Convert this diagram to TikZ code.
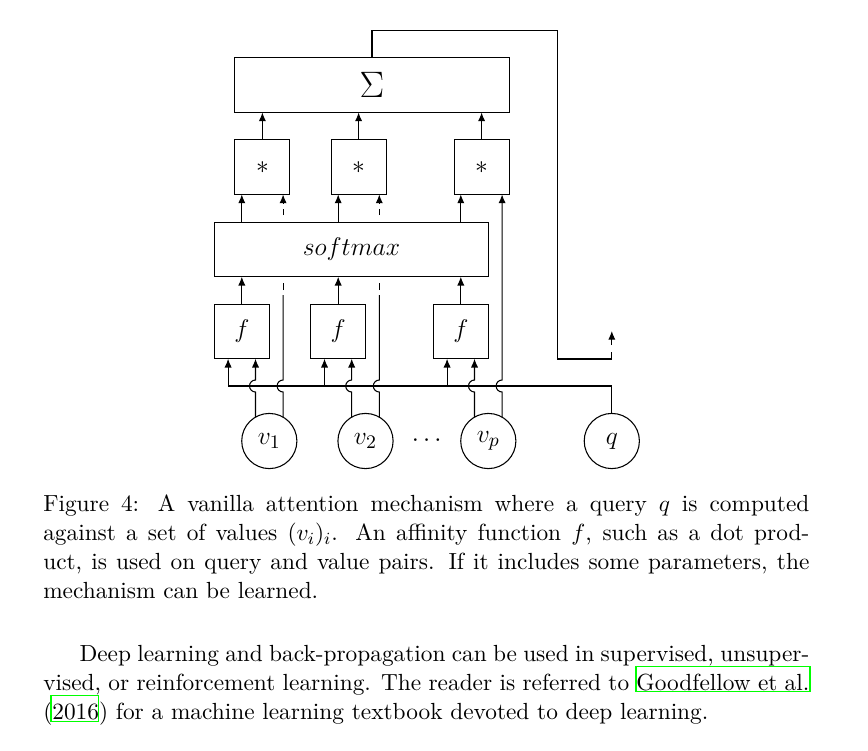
\documentclass[tikz,border=0pt]{standalone}
\usetikzlibrary{arrows.meta}
\definecolor{linkgreen}{RGB}{0,255,0}
\begin{document}
\begin{tikzpicture}[x=0.4694pt,y=0.4694pt,
  line width=0.5pt,
  arr/.style={-{Latex[length=4.1pt,width=3.4pt]}},
  dia/.style={font=\fontsize{13.2}{16}\selectfont, inner sep=0pt, outer sep=0pt},
  opbox/.style={dia, draw, rectangle, minimum width=25.8pt, minimum height=25.6pt},
  widebox/.style={dia, draw, rectangle, minimum width=128.7pt, minimum height=25.6pt},
  valnode/.style={dia, draw, circle, minimum size=25.9pt},
  txt/.style={anchor=base west, inner sep=0pt, outer sep=0pt, font=\fontsize{10.95}{13.6}\selectfont},
  link/.style={draw=linkgreen, line width=0.5pt}
]
\useasboundingbox (0,0) rectangle (868,-750);

% nodes
\node[widebox, font=\fontsize{17}{20}\selectfont] (S) at (372,-85.2) {$\Sigma$};
\node[opbox] (m1) at (262.4,-167.2) {$*$};
\node[opbox] (m2) at (358.6,-167.2) {$*$};
\node[opbox] (m3) at (481.6,-167.2) {$*$};
\node[widebox] (sm) at (351.5,-249.5) {$softmax$};
\node[opbox] (f1) at (241.8,-331.5) {$f$};
\node[opbox] (f2) at (338.2,-331.5) {$f$};
\node[opbox] (f3) at (460.8,-331.5) {$f$};
\node[valnode] (v1) at (269.3,-441) {$v_1$};
\node[valnode] (v2) at (365.5,-441) {$v_2$};
\node[valnode] (vp) at (488.3,-441) {$v_p$};
\node[valnode] (q) at (611.8,-441) {$q$};
\node[dia] (dots) at (426.7,-441) {$\cdots$};

% helper levels
\coordinate (bus) at (0,-386);
\coordinate (hb) at (0,-392);
\coordinate (g295) at (0,-295);
\coordinate (g290) at (0,-290);
\coordinate (g283) at (0,-283);
\coordinate (g215) at (0,-215);
\coordinate (g209) at (0,-209);
\coordinate (g203) at (0,-203);
\coordinate (g352) at (0,-352);
\coordinate (g345) at (0,-345);
\coordinate (g331) at (0,-331);
\coordinate (f1L) at ([xshift=-6.43pt]f1.south);
\coordinate (f2L) at ([xshift=-6.43pt]f2.south);
\coordinate (f3L) at ([xshift=-6.43pt]f3.south);
\coordinate (fbT) at (557.3,-30.7);
\coordinate (fbB) at (557.3,-359);
\coordinate (out) at (q.north |- g331);

% products into sum
\draw[arr] (m1.north) -- (m1.north |- S.south);
\draw[arr] (m2.north) -- (m2.north |- S.south);
\draw[arr] (m3.north) -- (m3.north |- S.south);

% softmax into products
\draw[arr] (f1.north |- sm.north) -- (f1.north |- m1.south);
\draw[arr] (f2.north |- sm.north) -- (f2.north |- m2.south);
\draw[arr] (f3.north |- sm.north) -- (f3.north |- m3.south);

% f into softmax
\draw[arr] (f1.north) -- (f1.north |- sm.south);
\draw[arr] (f2.north) -- (f2.north |- sm.south);
\draw[arr] (f3.north) -- (f3.north |- sm.south);

% query bus
\draw[arr] (q.north) |- (f1L |- bus) -- (f1L);
\draw[arr] (f2L |- bus) -- (f2L);
\draw[arr] (f3L |- bus) -- (f3L);

% values into f
\draw[arr] (v1.120) -- (v1.120 |- hb) arc[start angle=-90,end angle=-270,radius=6] -- (v1.120 |- f1.south);
\draw[arr] (v2.120) -- (v2.120 |- hb) arc[start angle=-90,end angle=-270,radius=6] -- (v2.120 |- f2.south);
\draw[arr] (vp.120) -- (vp.120 |- hb) arc[start angle=-90,end angle=-270,radius=6] -- (vp.120 |- f3.south);

% values into products
\draw (v1.60) -- (v1.60 |- hb) arc[start angle=-90,end angle=-270,radius=6] -- (v1.60 |- g295);
\draw (v1.60 |- g290) -- (v1.60 |- g283);
\draw (v1.60 |- g215) -- (v1.60 |- g209);
\draw[arr] (v1.60 |- g203) -- (v1.60 |- m1.south);
\draw (v2.60) -- (v2.60 |- hb) arc[start angle=-90,end angle=-270,radius=6] -- (v2.60 |- g295);
\draw (v2.60 |- g290) -- (v2.60 |- g283);
\draw (v2.60 |- g215) -- (v2.60 |- g209);
\draw[arr] (v2.60 |- g203) -- (v2.60 |- m2.south);
\draw[arr] (vp.60) -- (vp.60 |- hb) arc[start angle=-90,end angle=-270,radius=6] -- (vp.60 |- m3.south);

% feedback from the sum
\draw (S.north) |- (fbT) -- (fbB) -- (q.north |- fbB) -- (q.north |- g352);
\draw[arr] (q.north |- g345) -- (out);

% caption
\node[txt] (cap1) at (43.3,-511.7) {\hbox to 359.6pt{Figure 4: A vanilla attention mechanism where a query $q$ is computed}};
\node[txt] (cap2) at (43.3,-540.6) {\hbox to 359.6pt{against a set of values $(v_i)_i$. An affinity function $f$, such as a dot prod-}};
\node[txt] (cap3) at (43.3,-569.5) {\hbox to 359.6pt{uct, is used on query and value pairs. If it includes some parameters, the}};
\node[txt] (cap4) at (43.3,-598.4) {mechanism can be learned.};

% paragraph
\node[txt] (par1) at (43.3,-661.7) {\hbox to 359.6pt{\hskip 17pt Deep learning and back-propagation can be used in supervised, unsuper-}};
\node[txt] (par2) at (43.3,-690.6) {\hbox to 359.6pt{vised, or reinforcement learning. The reader is referred to Goodfellow et al.}};
\node[txt] (par3) at (43.3,-719.5) {(2016) for a machine learning textbook devoted to deep learning.};

% link borders
\draw[link] (636,-666.7) rectangle (810,-691.7);
\draw[link] (51,-695.7) rectangle (98.3,-721.7);
\end{tikzpicture}
\end{document}
